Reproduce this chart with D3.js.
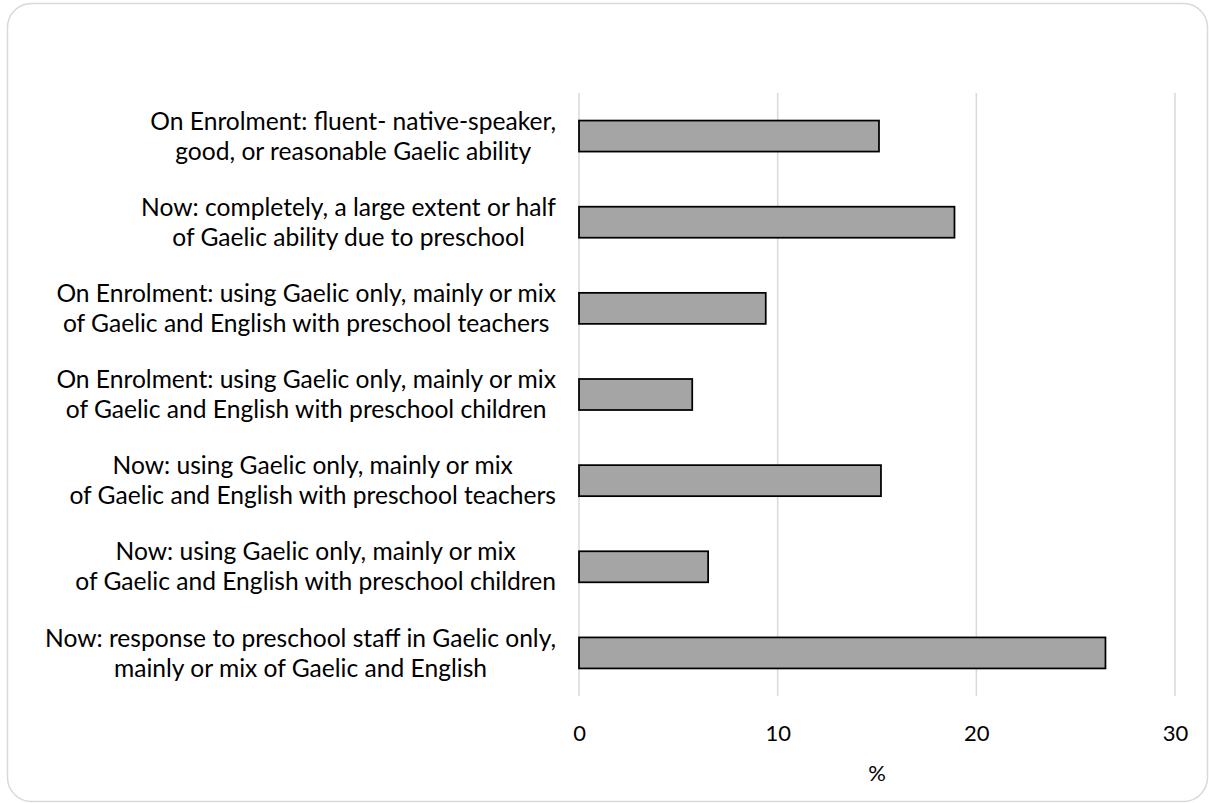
<!DOCTYPE html>
<html>
<head>
<meta charset="utf-8">
<script src="https://cdn.jsdelivr.net/npm/d3@7"></script>
<style>
html,body{margin:0;padding:0;background:#fff;}
svg{display:block;}
text{font-family:Lato,"Open Sans",sans-serif;fill:#000;}
</style>
</head>
<body>
<svg id="chart" width="1209" height="803"></svg>
<script>
const categories = [
  ["On Enrolment: fluent- native-speaker,", "good, or reasonable Gaelic ability"],
  ["Now: completely, a large extent or half", "of Gaelic ability due to preschool"],
  ["On Enrolment: using Gaelic only, mainly or mix", "of Gaelic and English with preschool teachers"],
  ["On Enrolment: using Gaelic only, mainly or mix", "of Gaelic and English with preschool children"],
  ["Now: using Gaelic only, mainly or mix", "of Gaelic and English with preschool teachers"],
  ["Now: using Gaelic only, mainly or mix", "of Gaelic and English with preschool children"],
  ["Now: response to preschool staff in Gaelic only,", "mainly or mix of Gaelic and English"]
];
const values = [15.1, 18.9, 9.4, 5.7, 15.2, 6.5, 26.5];
const xTicks = [0, 10, 20, 30];
const xTitle = "%";

const svg = d3.select("#chart");
const labelSize = 24.6;
const tickSize = 22;

// border
svg.append("rect")
  .attr("x", 7.5).attr("y", 3.5)
  .attr("width", 1200).attr("height", 798)
  .attr("rx", 24).attr("ry", 24)
  .attr("fill", "#fff").attr("stroke", "#d9d9d9").attr("stroke-width", 1.5);

const plot = {left: 579, right: 1175, top: 93, bottom: 696};
const ids = categories.map((d, i) => i);

const x = d3.scaleLinear().domain([0, 30]).range([plot.left, plot.right]);
const y = d3.scaleBand().domain(ids).range([plot.top, plot.bottom]).paddingInner(0.64).paddingOuter(0.32);

// gridlines
svg.append("g").selectAll("line").data(xTicks).join("line")
  .attr("x1", d => x(d)).attr("x2", d => x(d))
  .attr("y1", plot.top).attr("y2", plot.bottom)
  .attr("stroke", "#d9d9d9").attr("stroke-width", 1.5);

// bars
svg.append("g").selectAll("rect").data(values).join("rect")
  .attr("x", x(0))
  .attr("y", (d, i) => y(i))
  .attr("width", d => x(d) - x(0))
  .attr("height", y.bandwidth())
  .attr("fill", "#a5a5a5")
  .attr("stroke", "#000").attr("stroke-width", 1.75);

// x axis tick labels
const xAxis = d3.axisBottom(x).tickValues(xTicks).tickSize(0).tickPadding(0).tickFormat(d3.format("d"));
const gx = svg.append("g").attr("transform", `translate(0,${plot.bottom})`).call(xAxis);
gx.select(".domain").remove();
gx.selectAll("text")
  .attr("y", 37).attr("dy", "0.35em")
  .style("font-size", tickSize + "px")
  .style("font-family", "Lato, 'Open Sans', sans-serif")
  .attr("fill", "#000");

// x title
svg.append("text")
  .attr("x", (plot.left + plot.right) / 2)
  .attr("y", 773).attr("dy", "0.35em")
  .attr("text-anchor", "middle")
  .style("font-size", tickSize + "px")
  .text(xTitle);

// category labels: block right-aligned, lines centered
const labelRight = 556;
const lineGap = 30;
const lg = svg.append("g");
categories.forEach((lines, i) => {
  const cy = y(i) + y.bandwidth() / 2;
  const g = lg.append("g");
  const texts = lines.map((t, j) => g.append("text")
    .attr("y", cy + (j - (lines.length - 1) / 2) * lineGap)
    .attr("dy", "0.35em")
    .attr("text-anchor", "middle")
    .style("font-size", labelSize + "px")
    .text(t));
  const maxW = d3.max(texts, t => t.node().getComputedTextLength());
  texts.forEach(t => t.attr("x", labelRight - maxW / 2));
});
</script>
</body>
</html>
